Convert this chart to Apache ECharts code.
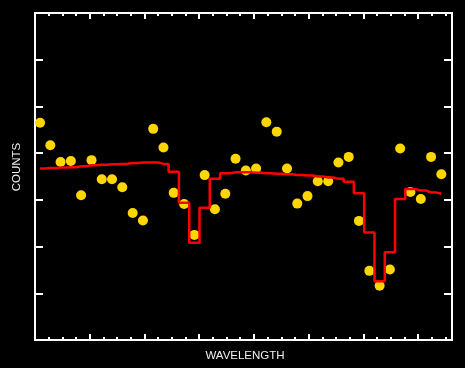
<!DOCTYPE html>
<html>
<head>
<meta charset="utf-8">
<script src="https://cdn.jsdelivr.net/npm/echarts@6/dist/echarts.min.js"></script>
<style>
  html, body { margin: 0; padding: 0; background: #000; }
  #chart { width: 465px; height: 368px; }
</style>
</head>
<body>
<div id="chart"></div>
<script>
// wavelength in minor-tick units, one value per observed bin
const wavelength = [
  0.37, 1.12, 1.87, 2.62, 3.37, 4.13, 4.88, 5.63, 6.38, 7.14,
  7.89, 8.64, 9.39, 10.14, 10.90, 11.65, 12.40, 13.15, 13.91, 14.66,
  15.41, 16.16, 16.91, 17.67, 18.42, 19.17, 19.92, 20.67, 21.43, 22.18,
  22.93, 23.68, 24.44, 25.19, 25.94, 26.69, 27.44, 28.20, 28.95, 29.70
];
// observed counts (yellow dots)
const counts = [
  4.65, 4.17, 3.81, 3.83, 3.10, 3.85, 3.44, 3.44, 3.27, 2.72,
  2.56, 4.52, 4.12, 3.15, 2.91, 2.25, 3.53, 2.80, 3.13, 3.88,
  3.63, 3.67, 4.66, 4.46, 3.67, 2.92, 3.08, 3.40, 3.40, 3.80,
  3.92, 2.55, 1.48, 1.16, 1.51, 4.10, 3.17, 3.02, 3.92, 3.55
];
// model (red histogram)
const model = [
  3.67, 3.68, 3.69, 3.70, 3.72, 3.74, 3.75, 3.76, 3.77, 3.79,
  3.80, 3.80, 3.77, 3.60, 2.94, 2.08, 2.83, 3.45, 3.57, 3.59,
  3.59, 3.58, 3.57, 3.56, 3.55, 3.53, 3.52, 3.50, 3.48, 3.45,
  3.39, 3.14, 2.30, 1.26, 1.88, 3.02, 3.23, 3.20, 3.16, 3.13
];

const xMax = 30.48;
const yMax = 7;
const white = '#ffffff';

const chart = echarts.init(document.getElementById('chart'));

function xAxisDef(position, interval, tickLen) {
  return {
    type: 'value',
    position: position,
    min: 0,
    max: xMax,
    interval: interval,
    axisLine: { show: true, onZero: false, lineStyle: { color: white, width: 2 } },
    axisTick: { show: true, inside: true, length: tickLen, lineStyle: { color: white, width: 2 } },
    axisLabel: { show: false },
    splitLine: { show: false }
  };
}

function yAxisDef(position) {
  return {
    type: 'value',
    position: position,
    min: 0,
    max: yMax,
    interval: 1,
    axisLine: { show: true, onZero: false, lineStyle: { color: white, width: 2 } },
    axisTick: { show: true, inside: true, length: 8, lineStyle: { color: white, width: 2 } },
    axisLabel: { show: false },
    splitLine: { show: false }
  };
}

const labelFont = '11.5px "Liberation Sans", Arial, sans-serif';

const options = {
  backgroundColor: '#000',
  animation: false,
  grid: { left: 35, top: 13, right: 13, bottom: 28, containLabel: false, outerBoundsMode: 'none' },
  xAxis: [
    xAxisDef('bottom', 4, 6),
    xAxisDef('bottom', 1, 3),
    xAxisDef('top', 4, 6),
    xAxisDef('top', 1, 3)
  ],
  yAxis: [yAxisDef('left'), yAxisDef('right')],
  graphic: [
    {
      type: 'text',
      x: 245, y: 356,
      style: {
        text: 'WAVELENGTH',
        fill: '#f0f0f0',
        font: labelFont,
        align: 'center',
        verticalAlign: 'middle'
      }
    },
    {
      type: 'text',
      x: 17, y: 167,
      rotation: Math.PI / 2,
      style: {
        text: 'COUNTS',
        fill: '#f0f0f0',
        font: labelFont,
        align: 'center',
        verticalAlign: 'middle'
      }
    }
  ],
  series: [
    {
      type: 'scatter',
      xAxisIndex: 0,
      yAxisIndex: 0,
      symbol: 'circle',
      symbolSize: 10,
      itemStyle: { color: '#ffd700', opacity: 1 },
      z: 2,
      data: wavelength.map((w, i) => [w, counts[i]])
    },
    {
      type: 'line',
      xAxisIndex: 0,
      yAxisIndex: 0,
      step: 'middle',
      showSymbol: false,
      lineStyle: { color: '#ff0000', width: 2.5 },
      z: 3,
      data: wavelength.map((w, i) => [w, model[i]])
    }
  ]
};

chart.setOption(options);
</script>
</body>
</html>
